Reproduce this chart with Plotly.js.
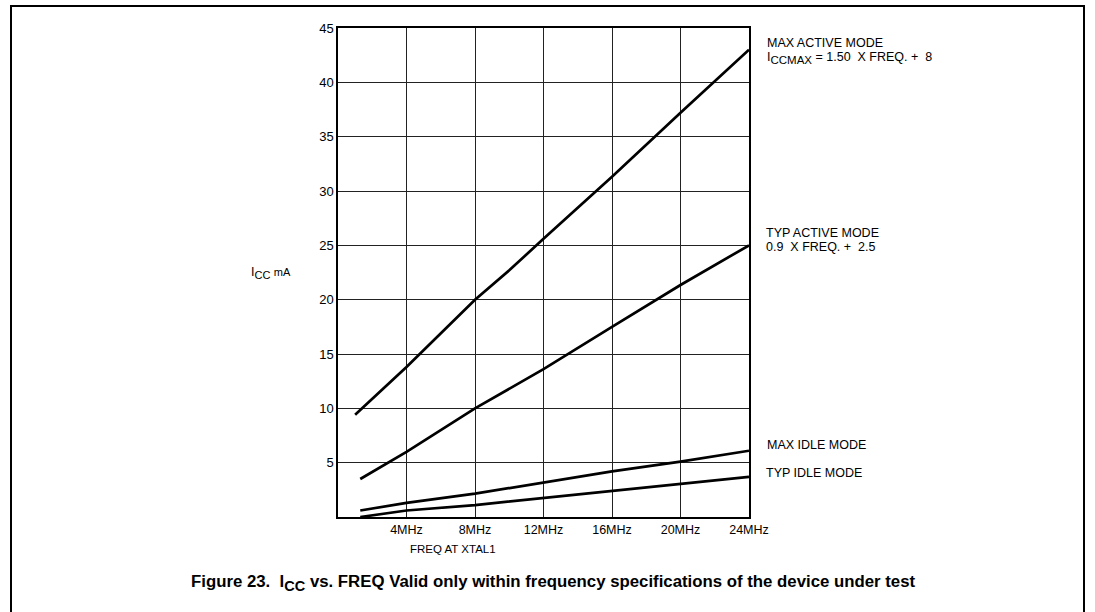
<!DOCTYPE html>
<html>
<head>
<meta charset="utf-8">
<script src="https://cdn.plot.ly/plotly-3.0.1.min.js"></script>
<style>
  html, body { margin: 0; padding: 0; background: #fff; }
  #chart { width: 1095px; height: 612px; }
</style>
</head>
<body>
<div id="chart"></div>
<script>
// Frequency (MHz) and supply current (mA)
const maxActiveFreq = [1, 4, 8, 10, 12, 16, 20, 24];
const maxActiveIcc  = [9.4, 13.8, 20.0, 22.7, 25.6, 31.3, 37.2, 43.0];

const typActiveFreq = [1.3, 4, 8, 12, 16, 20, 24];
const typActiveIcc  = [3.5, 6.0, 10.0, 13.6, 17.5, 21.35, 25.0];

const maxIdleFreq = [1.3, 4, 8, 12, 16, 20, 24];
const maxIdleIcc  = [0.6, 1.3, 2.15, 3.15, 4.2, 5.1, 6.1];

const typIdleFreq = [1.3, 4, 8, 12, 16, 20, 24];
const typIdleIcc  = [0.0, 0.6, 1.1, 1.75, 2.35, 3.0, 3.7];

const xTickVals = [4, 8, 12, 16, 20, 24];
const xTickText = ["4MHz", "8MHz", "12MHz", "16MHz", "20MHz", "24MHz"];
const yTickVals = [5, 10, 15, 20, 25, 30, 35, 40, 45];
const yTickText = ["5", "10", "15", "20", "25", "30", "35", "40", "45"];

const seriesNames = ["MAX ACTIVE MODE", "TYP ACTIVE MODE", "MAX IDLE MODE", "TYP IDLE MODE"];

const FONT = "Liberation Sans, Arial, Helvetica, sans-serif";
const lineStyle = { color: "#000", width: 2.7 };

const traces = [
  { x: maxActiveFreq, y: maxActiveIcc, name: seriesNames[0] },
  { x: typActiveFreq, y: typActiveIcc, name: seriesNames[1] },
  { x: maxIdleFreq,   y: maxIdleIcc,   name: seriesNames[2] },
  { x: typIdleFreq,   y: typIdleIcc,   name: seriesNames[3] }
].map(t => Object.assign(t, { type: "scatter", mode: "lines", line: lineStyle, hoverinfo: "x+y+name" }));

// convert pixel positions to paper coords
const L = 338, R = 749, T = 28, B = 517;
const px = v => (v - L) / (R - L);
const py = v => (B - v) / (B - T);

function note(text, x, y, size, opts) {
  return Object.assign({
    text: text, xref: "paper", yref: "paper", x: px(x), y: py(y),
    xanchor: "left", yanchor: "middle", showarrow: false, borderpad: 0,
    font: { family: FONT, size: size, color: "#000" }
  }, opts || {});
}

const layout = {
  width: 1095, height: 612,
  margin: { l: L, r: 1095 - R, t: T, b: 612 - B },
  paper_bgcolor: "#fff", plot_bgcolor: "#fff",
  showlegend: false,
  font: { family: FONT, size: 12, color: "#000" },
  xaxis: {
    range: [0, 24], tickvals: xTickVals, ticktext: xTickText,
    showgrid: true, gridcolor: "#222", gridwidth: 1,
    showline: true, linecolor: "#000", linewidth: 1.5, mirror: true,
    zeroline: false, ticks: "", fixedrange: true,
    tickfont: { family: FONT, size: 12.5, color: "#000" }
  },
  yaxis: {
    range: [0, 45], tickvals: yTickVals, ticktext: yTickText,
    showgrid: true, gridcolor: "#222", gridwidth: 1,
    showline: true, linecolor: "#000", linewidth: 1.5, mirror: true,
    zeroline: false, ticks: "", fixedrange: true,
    tickfont: { family: FONT, size: 13, color: "#000" }
  },
  annotations: [
    note("MAX ACTIVE MODE", 766, 43, 12.5),
    note("I<sub><span style=\"font-size:11.5px\">CCMAX</span></sub> = 1.50  X FREQ. +  8", 766, 58, 12.5),
    note("TYP ACTIVE MODE", 765, 233, 12.5),
    note("0.9  X FREQ. +  2.5", 765, 247, 12.5),
    note("MAX IDLE MODE", 766, 445, 12.5),
    note("TYP IDLE MODE", 765, 473, 12.5),
    note("I<sub><span style=\"font-size:11px\">CC</span></sub> <span style=\"font-size:11px\">mA</span>", 250, 273, 12.5),
    note("FREQ AT XTAL1", 453, 549, 11.5, { xanchor: "center" }),
    note("<b>Figure 23.  I<sub><span style=\"font-size:14.5px\">CC</span></sub> vs. FREQ Valid only within frequency specifications of the device under test</b>",
         553, 583, 16.8, { xanchor: "center" })
  ],
  shapes: [
    { type: "rect", xref: "paper", yref: "paper",
      x0: px(11), x1: px(1084), y0: py(625), y1: py(6),
      line: { color: "#000", width: 2 }, fillcolor: "rgba(0,0,0,0)", layer: "below" }
  ]
};

Plotly.newPlot("chart", traces, layout, { displayModeBar: false });
</script>
</body>
</html>
